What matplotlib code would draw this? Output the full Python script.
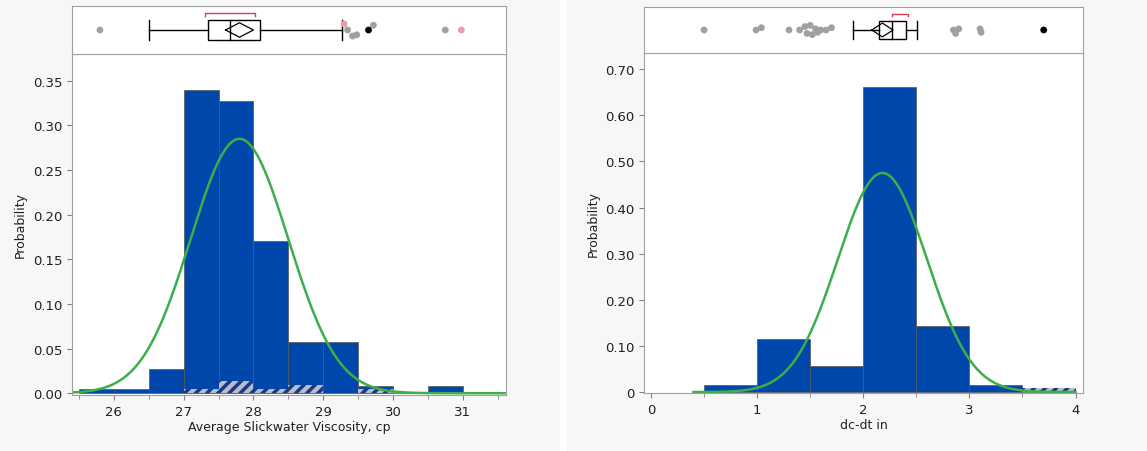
import numpy as np
import matplotlib
matplotlib.use("Agg")
import matplotlib.pyplot as plt
from matplotlib.ticker import MultipleLocator, FormatStrFormatter

# Left: Average Slickwater Viscosity
L_edges = [25.5, 26.0, 26.5, 27.0, 27.5, 28.0, 28.5, 29.0, 29.5, 30.0, 30.5]
L_probs = [0.005, 0.005, 0.027, 0.340, 0.327, 0.171, 0.057, 0.057, 0.008, 0.0, 0.008]
L_hatch = [0.0, 0.0, 0.0, 0.005, 0.014, 0.005, 0.009, 0.0, 0.005, 0.0, 0.0]
L_mean, L_sd = 27.8, 0.70
L_box = dict(wlo=26.5, q1=27.35, med=27.67, q3=28.1, whi=29.27, mean=27.8, dlo=27.6, dhi=28.0, blo=27.3, bhi=28.02)
L_pts = [25.8, 29.3, 29.35, 29.42, 29.48, 29.65, 29.72, 30.75, 30.98]
L_pty = [0, 0.25, 0, -0.25, -0.2, 0, 0.2, 0, 0]
L_ptc = ['#a0a0a0', '#e8a0a8', '#a0a0a0', '#a0a0a0', '#a0a0a0', 'black', '#a0a0a0', '#a0a0a0', '#e8a0a8']

# Right: dc-dt in
R_edges = [0.5, 1.0, 1.5, 2.0, 2.5, 3.0, 3.5]
R_probs = [0.015, 0.115, 0.057, 0.662, 0.143, 0.015, 0.0]
R_hatch = [0.0, 0.0, 0.0, 0.0, 0.0, 0.0, 0.009]
R_mean, R_sd = 2.18, 0.42
R_box = dict(wlo=1.9, q1=2.15, med=2.27, q3=2.4, whi=2.51, mean=2.18, dlo=2.08, dhi=2.28, blo=2.27, bhi=2.42)
R_pts = [0.5, 0.99, 1.04, 1.3, 1.4, 1.45, 1.47, 1.5, 1.52, 1.55, 1.57, 1.6, 1.65, 1.7, 2.85, 2.87, 2.9, 3.1, 3.11, 3.7]
R_pty = [0, 0, 0.1, 0, 0, 0.15, -0.15, 0.2, -0.2, 0.05, -0.1, 0, 0, 0.1, 0, -0.15, 0.05, 0.05, -0.1, 0]
R_ptc = ['#a0a0a0'] * 19 + ['black']

BLUE = '#0047AB'
fig = plt.figure(figsize=(11.47, 4.52), dpi=100, facecolor='#f7f7f7')
W, H = 1147, 452
plt.rcParams['hatch.color'] = '#1a3a80'
plt.rcParams['hatch.linewidth'] = 2.5

def panel(x0, x1, ybox0, ysplit, ybot, xlim, ylim, edges, probs, hatch, mu, sd, box, pts, pty, ptc,
          xlabel, yticks, yfmt, xticks, xminor, curve_range):
    axh = fig.add_axes([x0 / W, 1 - ybot / H, (x1 - x0) / W, (ybot - ysplit) / H])
    axb = fig.add_axes([x0 / W, 1 - ysplit / H, (x1 - x0) / W, (ysplit - ybox0) / H])
    for a in (axb, axh):
        a.set_facecolor('white')
        for s in a.spines.values():
            s.set_color('#a0a0a0')
    w = np.diff(edges + [edges[-1] + 0.5])
    axh.bar(edges, probs, width=w, align='edge', color=BLUE, edgecolor='#555555', linewidth=0.5)
    axh.bar(edges, hatch, width=w, align='edge', color='#b8bccc', edgecolor='#1a3a80', hatch='///', linewidth=0)
    xs = np.linspace(curve_range[0], curve_range[1], 400)
    ys = 0.5 / (sd * np.sqrt(2 * np.pi)) * np.exp(-0.5 * ((xs - mu) / sd) ** 2)
    axh.plot(xs, ys, color='#3cae4a', lw=1.8)
    axh.set_xlim(xlim); axh.set_ylim(ylim)
    axh.set_yticks(yticks)
    axh.yaxis.set_major_formatter(FormatStrFormatter(yfmt))
    axh.set_xticks(xticks)
    axh.xaxis.set_minor_locator(MultipleLocator(xminor))
    axh.tick_params(labelsize=9.5, color='#808080', labelcolor='#202020')
    axh.tick_params(which='minor', length=3, color='#808080')
    axh.set_xlabel(xlabel, fontsize=9, color='#202020', labelpad=2)
    axh.set_ylabel('Probability', fontsize=9, color='#202020')
    # box plot
    axb.set_xlim(xlim); axb.set_ylim(-1, 1)
    axb.set_xticks([]); axb.set_yticks([])
    axb.plot([box['wlo'], box['q1']], [0, 0], color='black', lw=1)
    axb.plot([box['q3'], box['whi']], [0, 0], color='black', lw=1)
    axb.plot([box['wlo']] * 2, [-0.4, 0.4], color='black', lw=1)
    axb.plot([box['whi']] * 2, [-0.4, 0.4], color='black', lw=1)
    axb.add_patch(plt.Rectangle((box['q1'], -0.4), box['q3'] - box['q1'], 0.8, fc='white', ec='black', lw=1))
    axb.plot([box['med']] * 2, [-0.4, 0.4], color='black', lw=1)
    axb.plot([box['dlo'], box['mean'], box['dhi'], box['mean'], box['dlo']], [0, 0.3, 0, -0.3, 0], color='black', lw=0.9)
    axb.plot([box['blo'], box['blo'], box['bhi'], box['bhi']], [0.6, 0.7, 0.7, 0.6], color='#d04050', lw=1)
    axb.scatter(pts, pty, s=24, c=ptc, zorder=3, linewidths=0)
    return axh

panel(72, 506, 7, 55, 396, (25.4, 31.62), (-0.002, 0.38), L_edges, L_probs, L_hatch, L_mean, L_sd,
      L_box, L_pts, L_pty, L_ptc, 'Average Slickwater Viscosity, cp',
      [0, 0.05, 0.1, 0.15, 0.2, 0.25, 0.3, 0.35], '%.2f', [26, 27, 28, 29, 30, 31], 0.5, (25.4, 31.6))
ax = panel(644, 1083, 8, 54, 394, (-0.066, 4.07), (-0.002, 0.735), R_edges, R_probs, R_hatch, R_mean, R_sd,
      R_box, R_pts, R_pty, R_ptc, 'dc-dt in',
      [0, 0.1, 0.2, 0.3, 0.4, 0.5, 0.6, 0.7], '%.2f', [0, 1, 2, 3, 4], 0.5, (0.4, 4.0))
ax.set_yticklabels(['0'] + ['%.2f' % v for v in [0.1, 0.2, 0.3, 0.4, 0.5, 0.6, 0.7]])
fig.add_artist(plt.Rectangle((560 / W, 0), 6 / W, 1, transform=fig.transFigure, color='white'))
fig.savefig('out.png', dpi=100, facecolor=fig.get_facecolor())
